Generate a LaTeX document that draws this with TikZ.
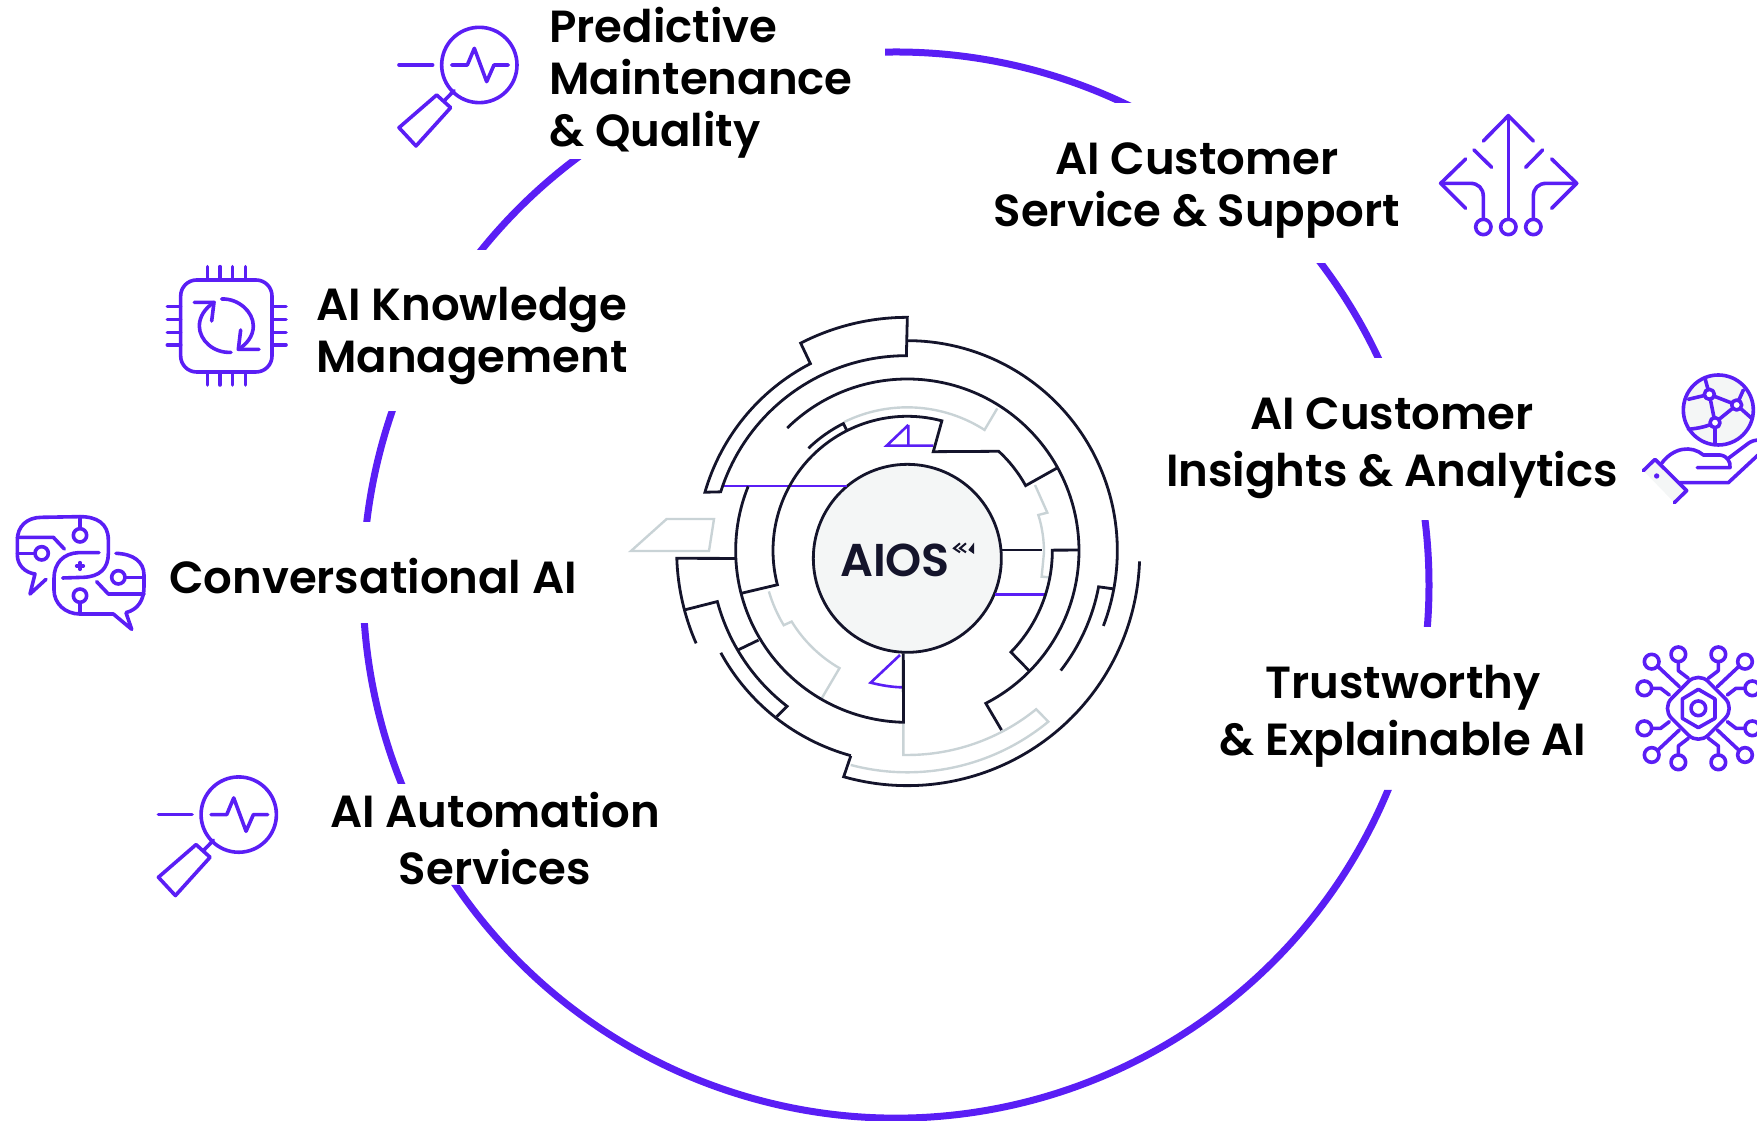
\documentclass[tikz,border=0pt]{standalone}
\usepackage{fontspec}
\newfontfamily\labfont[WordSpace=1.3]{Poppins SemiBold}
\newfontfamily\logofont{Poppins SemiBold}
\definecolor{vio}{HTML}{5A1EF5}
\definecolor{ink}{HTML}{14142B}
\definecolor{ash}{HTML}{C9D3D6}
\definecolor{pale}{HTML}{F4F6F6}
\newcommand{\seg}[3]{(#1:#2) arc[start angle=#1,end angle=#3,radius=#2]}
\tikzset{
 lab/.style={inner sep=0pt,text=black,font=\labfont\fontsize{45}{52}\selectfont},
 wide/.style={inner sep=0pt,text=black,font=\labfont\fontsize{45}{57}\selectfont,align=center},
 ico/.style={draw=vio,line width=3.6pt,line cap=round,line join=round},
 ringbig/.style={draw=vio,line width=7pt},
 inkl/.style={draw=ink,line width=2.8pt,line join=miter},
 ashl/.style={draw=ash,line width=2.4pt},
 viol/.style={draw=vio,line width=2.6pt},
 zoomed/.style={x=0.33333pt,y=-0.33333pt}
}
\newcommand{\magn}{%
 \draw[ico] (298,195) circle (113);
 \draw[ico] (57,195)--(158,195);
 \draw[ico] (215,195)--(262,195)--(283,145)--(320,245)--(342,195)--(385,195);
 \draw[ico] (222,272)--(195,300);
 \draw[ico] (170,285)--(212,323)--(108,438)--(57,383)--cycle;
}
\begin{document}
\begin{tikzpicture}[x=1pt,y=1pt]
\useasboundingbox (0,0) rectangle (1757,1121);
% big ring: each piece is trimmed flat by a clip, as the reference's are
\foreach \a/\b/\xa/\yt/\yb in {93/62/885/0/103,39/23/0/264/358,9/-6/0/521/627,203.9/182.2/0/624/784,175.2/159/0/412/522,143.3/124.4/0/160/250} {
 \begin{scope}
  \clip (\xa,{1121-\yb}) rectangle (1757,{1121-\yt});
  \draw[ringbig,shift={(896,536)}] \seg{\a}{533}{\b};
 \end{scope}
}
\begin{scope}
 \clip (896,331)--(1757,331)--(1757,0)--(0,0)--(0,236)--(896,236)--cycle;
 \draw[ringbig,shift={(896,536)}] \seg{-20}{533}{-150};
\end{scope}
% central art
\begin{scope}[shift={(907.33,570.33)},x=0.33333pt,y=0.33333pt]
 % ash
 \draw[ashl] \seg{116.1}{430}{57.4} -- (57.7:505);
 \draw[ashl] (383,197)--(420,114)--(393,107) .. controls (405,70) and (410,30) .. (410,-5) -- (403,-78)--(426,-80);
 \draw[ashl] \seg{196.4}{433}{211.1} -- (211.5:407) arc[start angle=211.5,end angle=240,radius=407] -- (239.9:512);
 \draw[ashl] (-12,-518)--(268.9:613) arc[start angle=268.9,end angle=309.1,radius=613] -- (309.5:665) arc[start angle=309.5,end angle=255.2,radius=665];
 \draw[ashl] (-829,-1)--(-722,95)--(-580,95)--(-595,-1)--cycle;
 % core
 \node[circle,draw=ink,fill=pale,line width=2.8pt,minimum size=188pt,inner sep=0pt] (core) at (0,-23) {};
 % purple
 \draw[viol] (-557,194)--(-182,194);
 \draw[viol] (3,377)--(-62,315)--(78,315) (3,377)--(3,315);
 \draw[viol] (-22,-313)--(-110,-396) .. controls (-75,-405) and (-40,-410) .. (-12,-410);
 \draw[viol] (263,-131)--(413,-131);
 % ink
 \draw[inkl] \seg{90}{700}{117.2} -- (117.4:632) arc[start angle=117.4,end angle=163.9,radius=632] -- (162.5:587) arc[start angle=162.5,end angle=90,radius=584] -- cycle;
 \draw[inkl] \seg{90}{630}{-21};
 \draw[inkl] (-10.5:629)--(-10.7:584) arc[start angle=-10.7,end angle=-38,radius=584];
 \begin{scope}[shift={(0,-8)}]
  \draw[inkl] \seg{-2}{697}{-105.9} -- (-105.6:631);
 \end{scope}
 \draw[inkl] \seg{-105.4}{638}{-151.3};
 \draw[inkl] (182.6:514.5)--(181.9:692) arc[start angle=181.9,end angle=203.7,radius=692];
 \draw[inkl] (194.9:690)--(195:590) arc[start angle=195,end angle=232.3,radius=590] -- (231.8:634);
 \draw[inkl] (210.4:588)--(211:521);
 \draw[inkl] \seg{134.4}{515}{-62.8} -- (-62.3:608);
 \draw[inkl] (28.9:515)--(28.8:405) arc[start angle=28.8,end angle=47.4,radius=405] -- (75.3:307)--(75.1:403) arc[start angle=75.1,end angle=194.7,radius=403] -- (194.4:515);
 \draw[inkl] \seg{134}{427}{116.7} -- (116.7:403);
 \draw[inkl] \seg{158}{515}{268.7} -- (-12,-308);
 \draw[inkl] (0.2:515)--(0.2:435) arc[start angle=0.2,end angle=-44.4,radius=435] -- (-44.6:515);
 \draw[inkl] (283,2)--(403,2);
 % logo chevrons
 \draw[ink,line width=2pt] (158,22)--(140,7)--(158,-5) (176,22)--(158,7)--(176,-5);
 \fill[ink] (200,24)--(183,2)--(200,-10)--cycle;
\end{scope}
\node[inner sep=0pt,text=ink,font=\logofont\fontsize{46}{46}\selectfont] (logo) at (895,561) {AIOS};
% labels
\node[lab,align=left] (pm) at (701,1038.5) {Predictive\\Maintenance\\\& Quality};
\node[lab,align=center] (cs) at (1197,930.5) {AI Customer\\Service \& Support};
\node[lab,align=left] (km) at (472,784.6) {AI Knowledge\\Management};
\node[lab] (ca) at (373,545) {Conversational AI};
\node[wide] (ci) at (1392,672.5) {AI Customer\\Insights \& Analytics};
\node[wide] (te) at (1403,404.6) {Trustworthy\\\& Explainable AI};
\node[wide] (as) at (495,282.2) {AI Automation\\Services};
% icon: magnifier 1
\begin{scope}[shift={(380,1121)},zoomed]\magn\end{scope}
% icon: magnifier 2
\begin{scope}[shift={(139.4,371.4)},zoomed]\magn\end{scope}
% icon: chip with cycle
\begin{scope}[shift={(150,871)},zoomed]
 \draw[ico,rounded corners=16pt] (92,90) rectangle (366,366);
 \foreach \p in {172,210,248,287} {\draw[ico] (\p,50)--(\p,90) (\p,366)--(\p,405);}
 \foreach \p in {170,208,247,285} {\draw[ico] (52,\p)--(92,\p) (366,\p)--(408,\p);}
 \draw[ico] (243,307) .. controls (190,310) and (148,270) .. (148,228) .. controls (148,200) and (165,175) .. (192,157);
 \draw[ico] (133,157)--(192,157)--(185,213);
 \draw[ico] (215,147) .. controls (265,145) and (310,185) .. (310,228) .. controls (310,258) and (290,283) .. (265,298);
 \draw[ico] (327,298)--(265,298)--(272,240);
\end{scope}
% icon: chat
\begin{scope}[shift={(0,621)},zoomed]
 \draw[ico] (188,234)--(250,232) .. controls (300,230) and (325,205) .. (325,160) -- (325,120) .. controls (325,70) and (290,50) .. (240,50) -- (125,52) .. controls (80,52) and (52,80) .. (52,120) -- (52,165) .. controls (52,195) and (75,218) .. (105,222) -- (90,282) -- (138,238);
 \draw[ico] (52,112)--(160,112)--(193,147);
 \draw[ico] (52,160)--(105,160);
 \draw[ico] (125,160) circle (20);
 \draw[ico] (240,50)--(240,85);
 \draw[ico] (240,106) circle (20);
 \draw[ico] (297,158)--(235,158) .. controls (190,160) and (162,190) .. (162,235) -- (162,270) .. controls (162,310) and (195,342) .. (240,342) -- (340,342) -- (395,388) -- (378,338) .. controls (415,328) and (432,300) .. (432,260) -- (432,225) .. controls (432,185) and (400,162) .. (348,160);
 \draw[ico] (240,342)--(240,308);
 \draw[ico] (240,287) circle (20);
 \draw[ico] (290,245)--(325,282)--(432,282);
 \draw[ico] (375,232)--(432,232);
 \draw[ico] (355,232) circle (20);
 \draw[ico] (230,198)--(250,198) (240,188)--(240,208);
\end{scope}
% icon: branching arrows
\begin{scope}[shift={(1420,1021)},zoomed]
 \draw[ico] (190,123)--(265,47)--(340,123);
 \draw[ico] (265,47)--(265,358);
 \draw[ico] (162,150)--(215,202) (368,150)--(317,202);
 \draw[ico] (137,177)--(62,250)--(137,325);
 \draw[ico] (395,177)--(470,250)--(395,325);
 \draw[ico] (62,250)--(150,250) .. controls (175,250) and (190,265) .. (190,290) -- (190,358);
 \draw[ico] (470,250)--(380,250) .. controls (355,250) and (340,265) .. (340,290) -- (340,358);
 \foreach \p in {190,265,340} \draw[ico] (\p,381) circle (23);
\end{scope}
% icon: hand with globe
\begin{scope}[shift={(1620,761)},zoomed]
 \fill[pale] (105,298)--(200,392)--(163,428)--(70,332)--cycle;
 \draw[ico,fill=pale] (295,150) circle (105);
 \draw[ico] (268,103)--(350,135)--(285,188)--cycle;
 \draw[ico] (268,103)--(255,55) (268,103)--(205,118) (350,135)--(370,90) (350,135)--(395,175);
 \draw[ico] (285,188) .. controls (260,200) and (235,205) .. (205,208) (285,188)--(285,250);
 \foreach \p/\q in {268/103,350/135,285/188} \draw[ico,fill=white] (\p,\q) circle (15);
 \draw[ico] (70,332)--(105,298)--(200,392)--(163,428);
 \fill[vio] (110,348) circle (8);
 \draw[ico] (125,310) .. controls (160,262) and (215,255) .. (250,285) -- (300,285) .. controls (322,288) and (332,305) .. (330,323) -- (232,323);
 \draw[ico] (325,295) -- (385,250) .. controls (395,243) and (405,240) .. (420,240);
 \draw[ico] (175,368)--(325,368)--(425,275);
\end{scope}
% icon: circuit
\begin{scope}[shift={(1698.33,412.67)},zoomed]
 \draw[ico,rounded corners=14pt] (0,-110)--(110,0)--(0,110)--(-110,0)--cycle;
 \draw[ico] (0,-57)--(50,-28)--(50,30)--(0,58)--(-48,30)--(-48,-28)--cycle;
 \draw[ico] (0,0) circle (22);
 \foreach \sx/\sy in {1/1,1/-1,-1/1,-1/-1} {
  \begin{scope}[xscale=\sx,yscale=\sy]
   \draw[ico] (57,65)--(123,127);
   \draw[ico] (140,140) circle (22);
   \draw[ico] (30,90)--(60,113)--(60,138);
   \draw[ico] (60,162) circle (22);
   \draw[ico] (87,40)--(113,60)--(138,60);
   \draw[ico] (162,60) circle (22);
  \end{scope}
 }
\end{scope}
\end{tikzpicture}
\end{document}
